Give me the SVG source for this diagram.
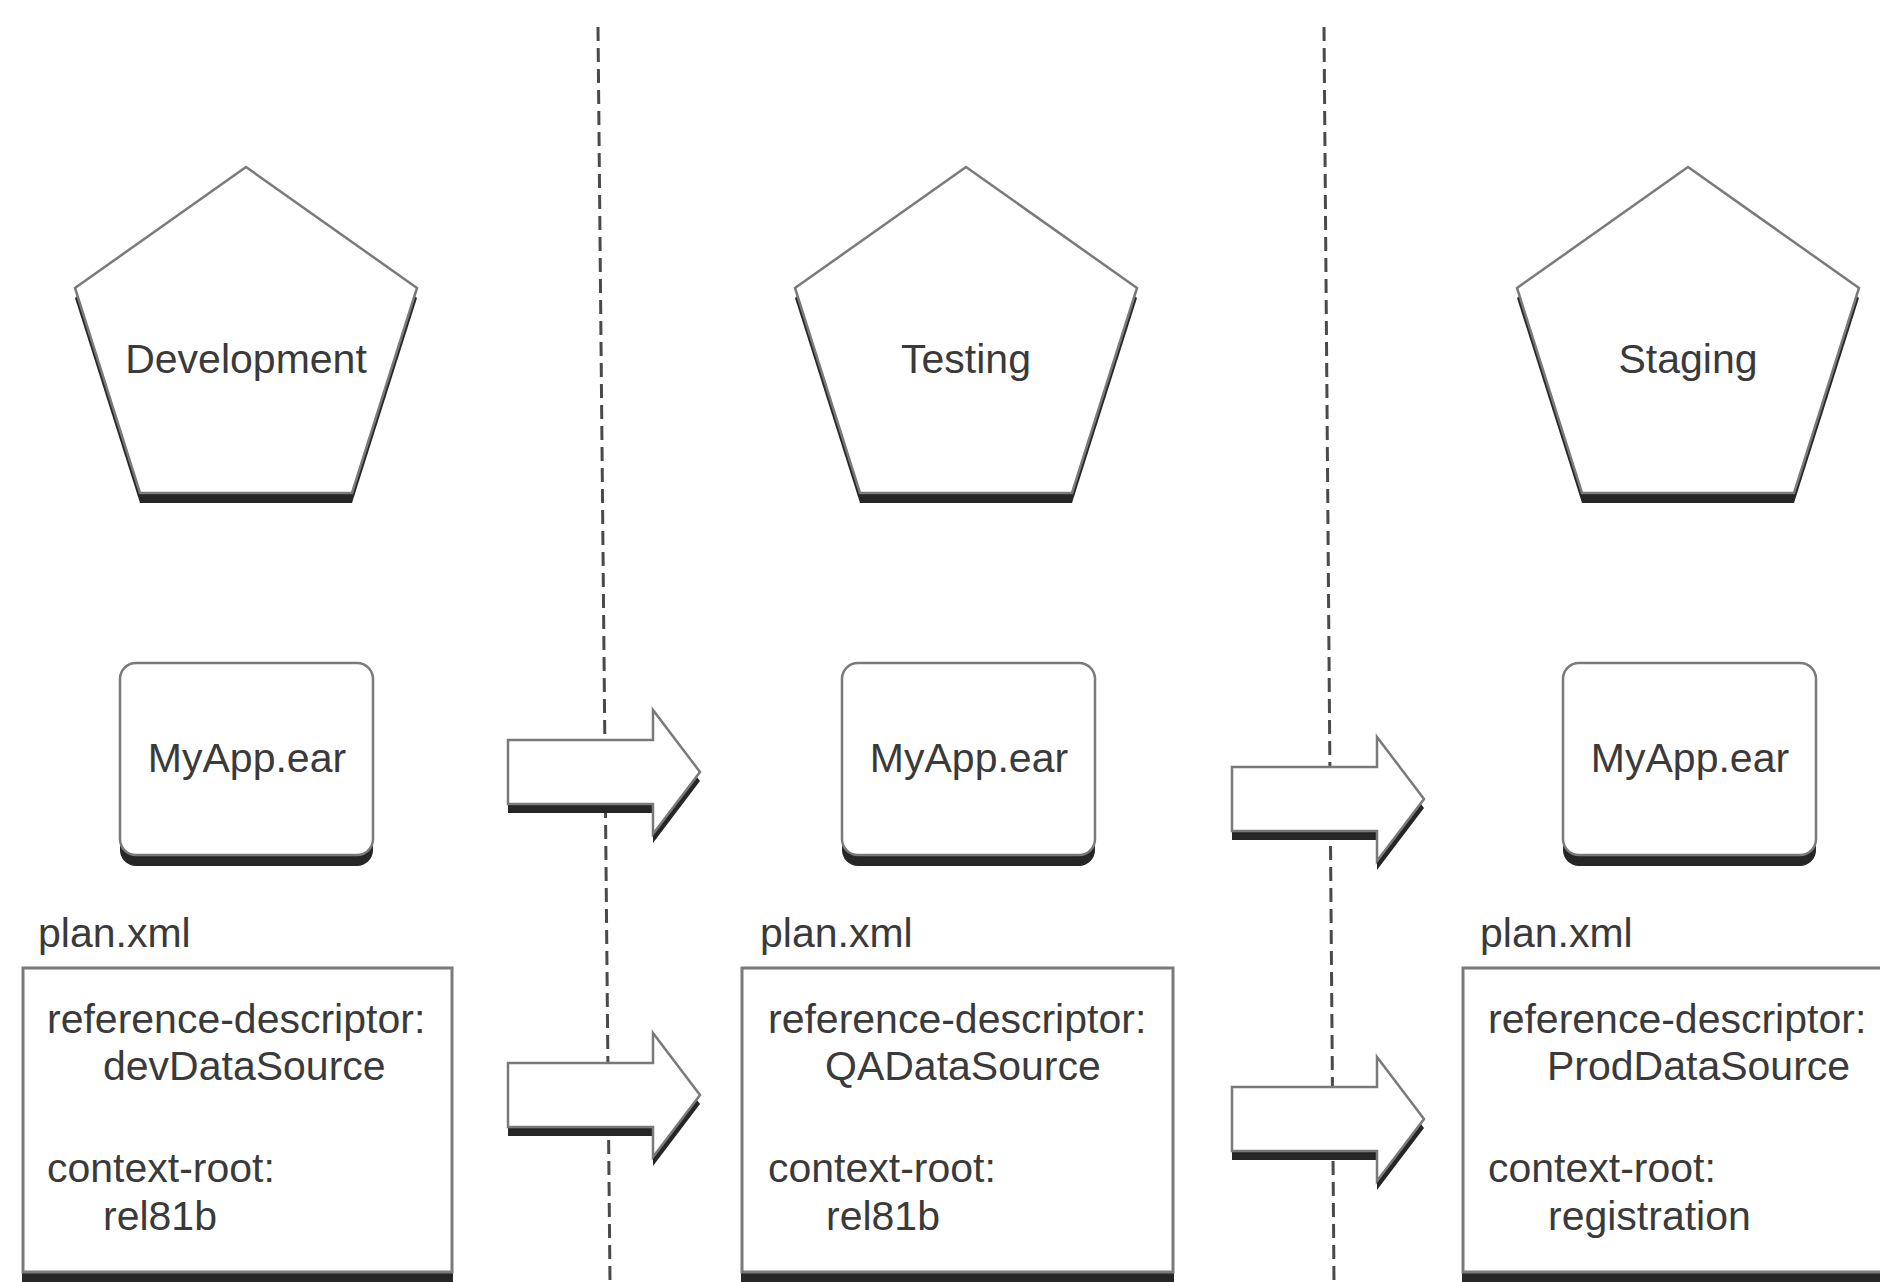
<svg xmlns="http://www.w3.org/2000/svg" xmlns:xlink="http://www.w3.org/1999/xlink" width="1880" height="1282" viewBox="0 0 1880 1282">
<style>
.t{font-family:"Liberation Sans",Arial,sans-serif;font-size:41px;fill:#3a3a3a}
.c{text-anchor:middle}
.sh{fill:#262626}
.bd{fill:#fff;stroke:#7a7a7a;stroke-width:2.5}
.sep{stroke:#4a4a4a;stroke-width:3;stroke-dasharray:14 7;fill:none}
</style>
<defs>
<path id="pent" d="M0,167 L171,288 L106,493 L-106,493 L-171,288 Z"/>
<path id="arr" d="M0,0 H145 V-30 L192,32 L145,94 V64 H0 Z"/>
</defs>
<rect width="1880" height="1282" fill="#fff"/>
<g id="separators">
<line class="sep" x1="598" y1="27" x2="610" y2="1282"/>
<line class="sep" x1="1324" y1="27" x2="1334" y2="1282"/>
</g>
<g id="env-development">
<use href="#pent" class="sh" transform="translate(246,10)"/>
<use href="#pent" class="bd" transform="translate(246,0)"/>
<text class="t c" x="246" y="373">Development</text>
</g>
<g id="env-testing">
<use href="#pent" class="sh" transform="translate(966,10)"/>
<use href="#pent" class="bd" transform="translate(966,0)"/>
<text class="t c" x="966" y="373">Testing</text>
</g>
<g id="env-staging">
<use href="#pent" class="sh" transform="translate(1688,10)"/>
<use href="#pent" class="bd" transform="translate(1688,0)"/>
<text class="t c" x="1688" y="373">Staging</text>
</g>
<g id="ear-development">
<rect class="sh" x="120" y="674" width="253" height="192" rx="16"/>
<rect class="bd" x="120" y="663" width="253" height="192" rx="16"/>
<text class="t c" x="247" y="772">MyApp.ear</text>
</g>
<g id="ear-testing">
<rect class="sh" x="842" y="674" width="253" height="192" rx="16"/>
<rect class="bd" x="842" y="663" width="253" height="192" rx="16"/>
<text class="t c" x="969" y="772">MyApp.ear</text>
</g>
<g id="ear-staging">
<rect class="sh" x="1563" y="674" width="253" height="192" rx="16"/>
<rect class="bd" x="1563" y="663" width="253" height="192" rx="16"/>
<text class="t c" x="1690" y="772">MyApp.ear</text>
</g>
<g id="plan-development">
<text class="t" x="38" y="947">plan.xml</text>
<rect class="sh" x="22" y="978" width="431" height="310"/>
<rect class="bd" x="23" y="968" width="429" height="304" style="stroke-width:3"/>
<text class="t" x="47" y="1033">reference-descriptor:</text>
<text class="t" x="103" y="1080">devDataSource</text>
<text class="t" x="47" y="1182">context-root:</text>
<text class="t" x="103" y="1230">rel81b</text>
</g>
<g id="plan-testing">
<text class="t" x="760" y="947">plan.xml</text>
<rect class="sh" x="741" y="978" width="433" height="310"/>
<rect class="bd" x="742" y="968" width="431" height="304" style="stroke-width:3"/>
<text class="t" x="768" y="1033">reference-descriptor:</text>
<text class="t" x="825" y="1080">QADataSource</text>
<text class="t" x="768" y="1182">context-root:</text>
<text class="t" x="826" y="1230">rel81b</text>
</g>
<g id="plan-staging">
<text class="t" x="1480" y="947">plan.xml</text>
<rect class="sh" x="1462" y="978" width="440" height="310"/>
<rect class="bd" x="1463" y="968" width="440" height="304" style="stroke-width:3"/>
<text class="t" x="1488" y="1033">reference-descriptor:</text>
<text class="t" x="1547" y="1080">ProdDataSource</text>
<text class="t" x="1488" y="1182">context-root:</text>
<text class="t" x="1548" y="1230">registration</text>
</g>
<g id="connectors">
<g id="arrow-ear-1">
<use href="#arr" class="sh" transform="translate(508,749)"/>
<use href="#arr" class="bd" transform="translate(508,740)"/>
</g>
<g id="arrow-ear-2">
<use href="#arr" class="sh" transform="translate(1232,776)"/>
<use href="#arr" class="bd" transform="translate(1232,767)"/>
</g>
<g id="arrow-plan-1">
<use href="#arr" class="sh" transform="translate(508,1072)"/>
<use href="#arr" class="bd" transform="translate(508,1063)"/>
</g>
<g id="arrow-plan-2">
<use href="#arr" class="sh" transform="translate(1232,1096)"/>
<use href="#arr" class="bd" transform="translate(1232,1087)"/>
</g>
</g>
</svg>
